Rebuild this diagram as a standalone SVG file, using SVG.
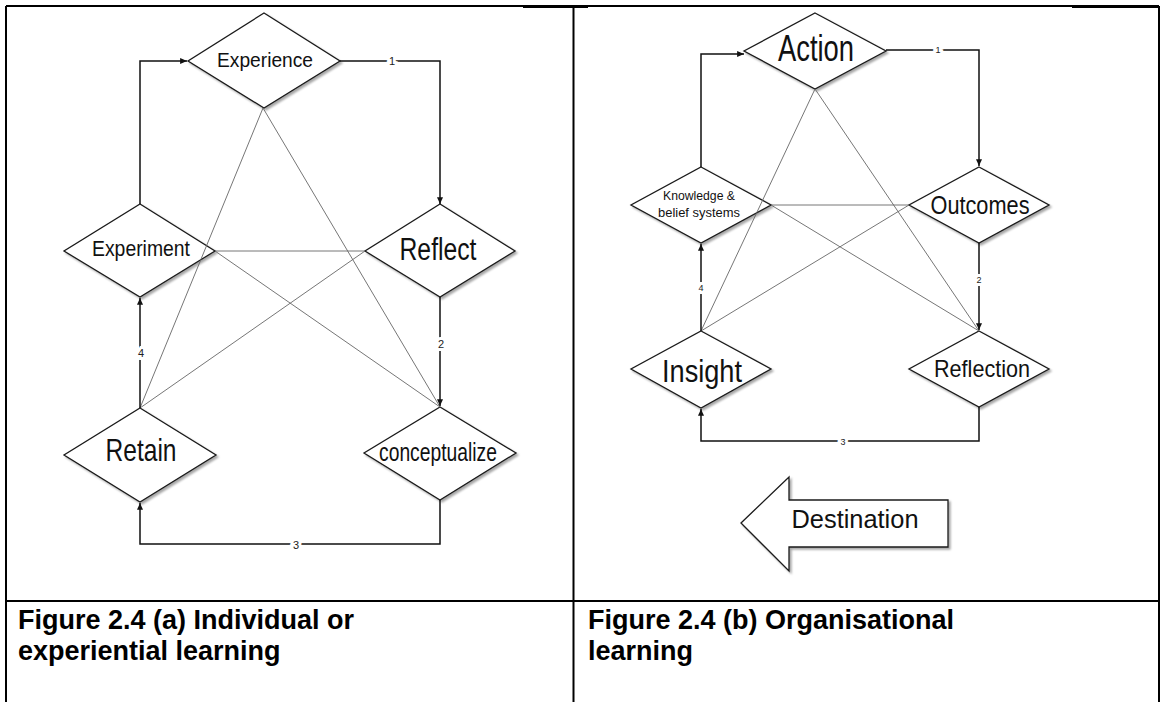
<svg xmlns="http://www.w3.org/2000/svg" width="1165" height="702" viewBox="0 0 1165 702">
  <defs>
    <style>
      .frame { stroke: #000; stroke-width: 2; fill: none; }
      .frame-thick { stroke: #000; stroke-width: 3; fill: none; }
      .box { fill: #fff; stroke: #1a1a1a; stroke-width: 1.3; filter: url(#shade); }
      .flow { fill: none; stroke: #111; stroke-width: 1.5; }
      .web { fill: none; stroke: #666; stroke-width: 0.9; }
      .lbl { font-family: "Liberation Sans Narrow", "Liberation Sans", Arial, sans-serif; fill: #111; text-anchor: middle; }
      .num { font-family: "Liberation Sans", Arial, sans-serif; font-size: 11px; fill: #222; text-anchor: middle; dominant-baseline: central; stroke: #fff; stroke-width: 6; paint-order: stroke; }
      .num-s { font-size: 9px; }
      .cap { font-family: "Liberation Sans", Arial, sans-serif; font-weight: bold; font-size: 27px; fill: #000; }
    </style>
    <filter id="shade" x="-10%" y="-10%" width="130%" height="130%">
      <feGaussianBlur in="SourceAlpha" stdDeviation="1.2"/>
      <feOffset dx="1.5" dy="1.5" result="off"/>
      <feComponentTransfer><feFuncA type="linear" slope="0.35"/></feComponentTransfer>
      <feMerge><feMergeNode/><feMergeNode in="SourceGraphic"/></feMerge>
    </filter>
    <marker id="head" viewBox="0 0 8 7" refX="8" refY="3.5" markerWidth="7" markerHeight="6" markerUnits="userSpaceOnUse" orient="auto">
      <path d="M0,0 L8,3.5 L0,7 z" fill="#111"/>
    </marker>
  </defs>

  <rect width="1165" height="702" fill="#fff"/>

  <!-- table frame -->
  <g id="table">
    <line class="frame" x1="6" y1="6" x2="1159" y2="6"/>
    <line class="frame-thick" x1="523" y1="6.5" x2="588" y2="6.5"/>
    <line class="frame-thick" x1="1072" y1="6.5" x2="1159" y2="6.5"/>
    <line class="frame" x1="6" y1="6" x2="6" y2="702"/>
    <line class="frame" x1="573.5" y1="6" x2="573.5" y2="702"/>
    <line class="frame" x1="1159" y1="6" x2="1159" y2="702"/>
    <line class="frame" x1="6" y1="601" x2="1159" y2="601"/>
  </g>

  <!-- (a) individual learning cycle -->
  <g id="a-experience">
    <polygon class="box" points="264,13 340,61 264,108 188,61"/>
    <text class="lbl" x="265" y="67" font-size="21" textLength="96" lengthAdjust="spacingAndGlyphs">Experience</text>
  </g>
  <g id="a-experiment">
    <polygon class="box" points="140,204 215,251 140,297 64,251"/>
    <text class="lbl" x="141" y="256" font-size="22" textLength="98" lengthAdjust="spacingAndGlyphs">Experiment</text>
  </g>
  <g id="a-reflect">
    <polygon class="box" points="440,204 515,251 440,297 365,251"/>
    <text class="lbl" x="438" y="260" font-size="31" textLength="77" lengthAdjust="spacingAndGlyphs">Reflect</text>
  </g>
  <g id="a-retain">
    <polygon class="box" points="140,408 216,455 140,502 64,455"/>
    <text class="lbl" x="141" y="461" font-size="32" textLength="71" lengthAdjust="spacingAndGlyphs">Retain</text>
  </g>
  <g id="a-conceptualize">
    <polygon class="box" points="440,407 516,453 440,500 364,453"/>
    <text class="lbl" x="438" y="461" font-size="25" textLength="118" lengthAdjust="spacingAndGlyphs">conceptualize</text>
  </g>

  <g id="a-connectors">
    <line class="web" x1="263" y1="108" x2="140" y2="408"/>
    <line class="web" x1="263" y1="108" x2="440" y2="407"/>
    <line class="web" x1="215" y1="251" x2="365" y2="251"/>
    <line class="web" x1="215" y1="251" x2="440" y2="407"/>
    <line class="web" x1="365" y1="251" x2="140" y2="408"/>

    <path class="flow" d="M140,204 V61 H187" marker-end="url(#head)"/>
    <path class="flow" d="M340,61 H440 V204" marker-end="url(#head)"/>
    <path class="flow" d="M440,297 V406" marker-end="url(#head)"/>
    <path class="flow" d="M440,500 V544 H140 V503" marker-end="url(#head)"/>
    <path class="flow" d="M140,408 V298" marker-end="url(#head)"/>

    <text class="num" x="392" y="61">1</text>
    <text class="num" x="441" y="344">2</text>
    <text class="num" x="296" y="545">3</text>
    <text class="num" x="141" y="353">4</text>
  </g>

  <!-- (b) organisational learning cycle -->
  <g id="b-action">
    <polygon class="box" points="815,13 886,51 815,89 744,51"/>
    <text class="lbl" x="816" y="61" font-size="36" textLength="76" lengthAdjust="spacingAndGlyphs">Action</text>
  </g>
  <g id="b-knowledge">
    <polygon class="box" points="701,167 771,205 701,243 631,205"/>
    <text class="lbl" x="699" y="200" font-size="12.5" textLength="72" lengthAdjust="spacingAndGlyphs">Knowledge &amp;</text>
    <text class="lbl" x="699" y="217" font-size="12.5" textLength="82" lengthAdjust="spacingAndGlyphs">belief systems</text>
  </g>
  <g id="b-outcomes">
    <polygon class="box" points="979,167 1049,205 979,243 909,205"/>
    <text class="lbl" x="980" y="214" font-size="25" textLength="99" lengthAdjust="spacingAndGlyphs">Outcomes</text>
  </g>
  <g id="b-insight">
    <polygon class="box" points="701,331 771,369 701,408 631,369"/>
    <text class="lbl" x="702" y="382" font-size="31" textLength="80" lengthAdjust="spacingAndGlyphs">Insight</text>
  </g>
  <g id="b-reflection">
    <polygon class="box" points="979,331 1049,369 979,407 909,369"/>
    <text class="lbl" x="982" y="377" font-size="24" textLength="96" lengthAdjust="spacingAndGlyphs">Reflection</text>
  </g>

  <g id="b-connectors">
    <line class="web" x1="815" y1="89" x2="701" y2="331"/>
    <line class="web" x1="815" y1="89" x2="979" y2="331"/>
    <line class="web" x1="771" y1="205" x2="909" y2="205"/>
    <line class="web" x1="771" y1="205" x2="979" y2="331"/>
    <line class="web" x1="909" y1="205" x2="701" y2="331"/>

    <path class="flow" d="M701,167 V54 H744" marker-end="url(#head)"/>
    <path class="flow" d="M886,50 H979 V166" marker-end="url(#head)"/>
    <path class="flow" d="M979,243 V330" marker-end="url(#head)"/>
    <path class="flow" d="M979,407 V441 H701 V409" marker-end="url(#head)"/>
    <path class="flow" d="M701,331 V244" marker-end="url(#head)"/>

    <text class="num num-s" x="938" y="50">1</text>
    <text class="num num-s" x="979" y="280">2</text>
    <text class="num num-s" x="843" y="442">3</text>
    <text class="num num-s" x="701" y="288">4</text>
  </g>

  <g id="b-destination">
    <polygon class="box" points="741,523 789,477 789,500 948,500 948,547 789,547 789,571"/>
    <text class="lbl" x="855" y="528" font-size="25" textLength="127" lengthAdjust="spacingAndGlyphs">Destination</text>
  </g>

  <!-- captions -->
  <g id="captions">
    <text class="cap" x="18" y="629">Figure 2.4 (a) Individual or</text>
    <text class="cap" x="18" y="660">experiential learning</text>
    <text class="cap" x="588" y="629">Figure 2.4 (b) Organisational</text>
    <text class="cap" x="588" y="660">learning</text>
  </g>
</svg>
